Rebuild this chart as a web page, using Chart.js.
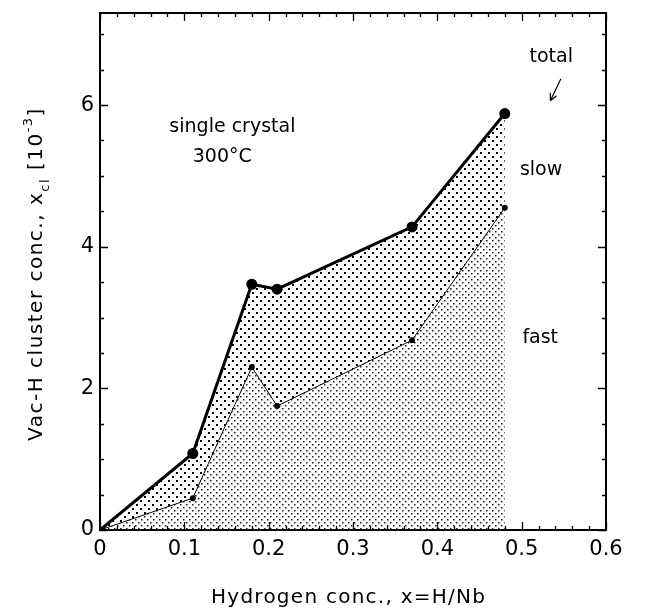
<!DOCTYPE html>
<html>
<head>
<meta charset="utf-8">
<script src="https://cdn.jsdelivr.net/npm/chart.js@4/dist/chart.umd.min.js"></script>
<style>
  html, body { margin: 0; padding: 0; background: #fff; }
  canvas { display: block; }
</style>
</head>
<body>
<canvas id="myChart" width="650" height="616"></canvas>
<script>
// Hydrogen concentration x = H/Nb
const hydrogenConc = [0, 0.11, 0.18, 0.21, 0.37, 0.48];
// Vac-H cluster concentration [10^-3]
const totalConc = [0, 1.08, 3.47, 3.40, 4.28, 5.88];
const fastConc = [0, 0.45, 2.30, 1.75, 2.68, 4.55];
const xTicks = [0, 0.1, 0.2, 0.3, 0.4, 0.5, 0.6];
const yTicks = [0, 2, 4, 6];

const FONT = "'DejaVu Sans', sans-serif";

// dotted fills like the printed figure
function makePattern(size, dot, color) {
    const c = document.createElement('canvas');
    c.width = size;
    c.height = size;
    const g = c.getContext('2d');
    g.fillStyle = color;
    g.fillRect(0, 0, dot, dot);
    g.fillRect(size / 2, size / 2, dot, dot);
    return g.createPattern(c, 'repeat');
}
const ctxMain = document.getElementById('myChart').getContext('2d');
const slowPattern = makePattern(8, 2, '#000');
const fastPattern = makePattern(6, 1.5, '#1a1a1a');

// draws text stretched to a given width via letter spacing
function spacedText(ctx, text, x, y, width) {
    ctx.letterSpacing = '0px';
    const w = ctx.measureText(text).width;
    const sp = (width - w) / Math.max(text.length - 1, 1);
    ctx.letterSpacing = sp + 'px';
    ctx.fillText(text, x, y);
    ctx.letterSpacing = '0px';
}

// ticks drawn inward on all four sides + frame
const framePlugin = {
    id: 'frame',
    afterDatasetsDraw(chart) {
        const {ctx, chartArea: a, scales: {x, y}} = chart;
        ctx.save();
        ctx.strokeStyle = '#000';
        ctx.lineWidth = 1.3;
        ctx.beginPath();
        for (let v = 0; v <= 0.6001; v += 0.02) {
            const px = Math.round(x.getPixelForValue(v)) + 0.5;
            const major = Math.abs(v * 10 - Math.round(v * 10)) < 1e-6;
            const len = major ? 8 : 4;
            ctx.moveTo(px, a.bottom); ctx.lineTo(px, a.bottom - len);
            ctx.moveTo(px, a.top); ctx.lineTo(px, a.top + len);
        }
        for (let v = 0; v <= 7.3; v += 0.5) {
            const py = Math.round(y.getPixelForValue(v)) + 0.5;
            const major = Math.abs(v / 2 - Math.round(v / 2)) < 1e-6;
            const len = major ? 8 : 4;
            ctx.moveTo(a.left, py); ctx.lineTo(a.left + len, py);
            ctx.moveTo(a.right, py); ctx.lineTo(a.right - len, py);
        }
        ctx.stroke();
        ctx.lineWidth = 2;
        ctx.strokeRect(a.left, a.top, a.right - a.left, a.bottom - a.top);
        ctx.restore();
    }
};

// axis titles and in-plot labels
const labelsPlugin = {
    id: 'labels',
    afterDraw(chart) {
        const {ctx, chartArea: a, scales: {x, y}} = chart;
        ctx.save();
        ctx.fillStyle = '#000';
        ctx.font = '20px ' + FONT;
        ctx.textAlign = 'left';
        ctx.textBaseline = 'middle';
        spacedText(ctx, 'Hydrogen conc., x=H/Nb', 211, 598, 274);

        ctx.font = '19px ' + FONT;
        ctx.textAlign = 'center';
        ctx.fillText('single crystal', x.getPixelForValue(0.157), y.getPixelForValue(5.69));
        ctx.fillText('300\u00B0C', x.getPixelForValue(0.145), y.getPixelForValue(5.27));
        ctx.fillText('total', x.getPixelForValue(0.535), y.getPixelForValue(6.68));
        ctx.fillText('slow', x.getPixelForValue(0.523), y.getPixelForValue(5.08));
        ctx.fillText('fast', x.getPixelForValue(0.522), y.getPixelForValue(2.71));

        // arrow pointing to the total curve
        const x1 = x.getPixelForValue(0.5465), y1 = y.getPixelForValue(6.37);
        const x2 = x.getPixelForValue(0.534), y2 = y.getPixelForValue(6.06);
        ctx.strokeStyle = '#000';
        ctx.lineWidth = 1.2;
        ctx.beginPath();
        ctx.moveTo(x1, y1); ctx.lineTo(x2, y2);
        const ang = Math.atan2(y2 - y1, x2 - x1);
        ctx.moveTo(x2, y2); ctx.lineTo(x2 - 8 * Math.cos(ang - 0.45), y2 - 8 * Math.sin(ang - 0.45));
        ctx.moveTo(x2, y2); ctx.lineTo(x2 - 8 * Math.cos(ang + 0.45), y2 - 8 * Math.sin(ang + 0.45));
        ctx.stroke();

        // rotated y title with sub/superscript
        ctx.translate(35, 274);
        ctx.rotate(-Math.PI / 2);
        ctx.textAlign = 'left';
        ctx.textBaseline = 'alphabetic';
        ctx.letterSpacing = '1.5px';
        const parts = [
            ['Vac-H cluster conc., x', 20, 0],
            ['cl', 13, 7],
            [' [10', 20, 0],
            ['-3', 13, -10],
            [']', 20, 0]
        ];
        let total = 0;
        parts.forEach(p => { ctx.font = p[1] + 'px ' + FONT; total += ctx.measureText(p[0]).width; });
        let cx = -total / 2;
        parts.forEach(p => {
            ctx.font = p[1] + 'px ' + FONT;
            ctx.fillText(p[0], cx, 7 + p[2]);
            cx += ctx.measureText(p[0]).width;
        });
        ctx.restore();
    }
};

const chartData = {
    labels: hydrogenConc,
    datasets: [{
        label: 'total',
        data: hydrogenConc.map((h, i) => ({x: h, y: totalConc[i]})),
        borderColor: '#000',
        borderWidth: 3,
        backgroundColor: slowPattern,
        fill: '+1',
        pointRadius: totalConc.map((v, i) => i === 0 ? 0 : 5.5),
        pointBackgroundColor: '#000',
        pointBorderWidth: 0,
        tension: 0
    }, {
        label: 'fast',
        data: hydrogenConc.map((h, i) => ({x: h, y: fastConc[i]})),
        borderColor: '#000',
        borderWidth: 1,
        backgroundColor: fastPattern,
        fill: 'origin',
        pointRadius: fastConc.map((v, i) => i === 0 ? 0 : 3),
        pointBackgroundColor: '#000',
        pointBorderWidth: 0,
        tension: 0
    }]
};

const config = {
    type: 'line',
    data: chartData,
    plugins: [framePlugin, labelsPlugin],
    options: {
        responsive: false,
        animation: false,
        layout: {padding: {left: 0, right: 44, top: 13, bottom: 0}},
        scales: {
            x: {
                type: 'linear',
                min: 0,
                max: 0.6,
                afterBuildTicks: s => { s.ticks = xTicks.map(v => ({value: v})); },
                afterFit: s => { s.height = 86; },
                grid: {display: false, drawTicks: false},
                border: {display: false},
                ticks: {
                    color: '#000',
                    padding: 7,
                    font: {size: 21, family: FONT},
                    callback: v => v === 0 ? '0' : v.toFixed(1)
                }
            },
            y: {
                type: 'linear',
                min: 0,
                max: 7.3,
                afterBuildTicks: s => { s.ticks = yTicks.map(v => ({value: v})); },
                afterFit: s => { s.width = 100; s.paddingTop = 0; s.paddingBottom = 0; },
                grid: {display: false, drawTicks: false},
                border: {display: false},
                ticks: {
                    color: '#000',
                    padding: 6,
                    font: {size: 21, family: FONT}
                }
            }
        },
        plugins: {
            legend: {display: false},
            tooltip: {enabled: false}
        }
    }
};

const chart = new Chart(ctxMain, config);
</script>
</body>
</html>
